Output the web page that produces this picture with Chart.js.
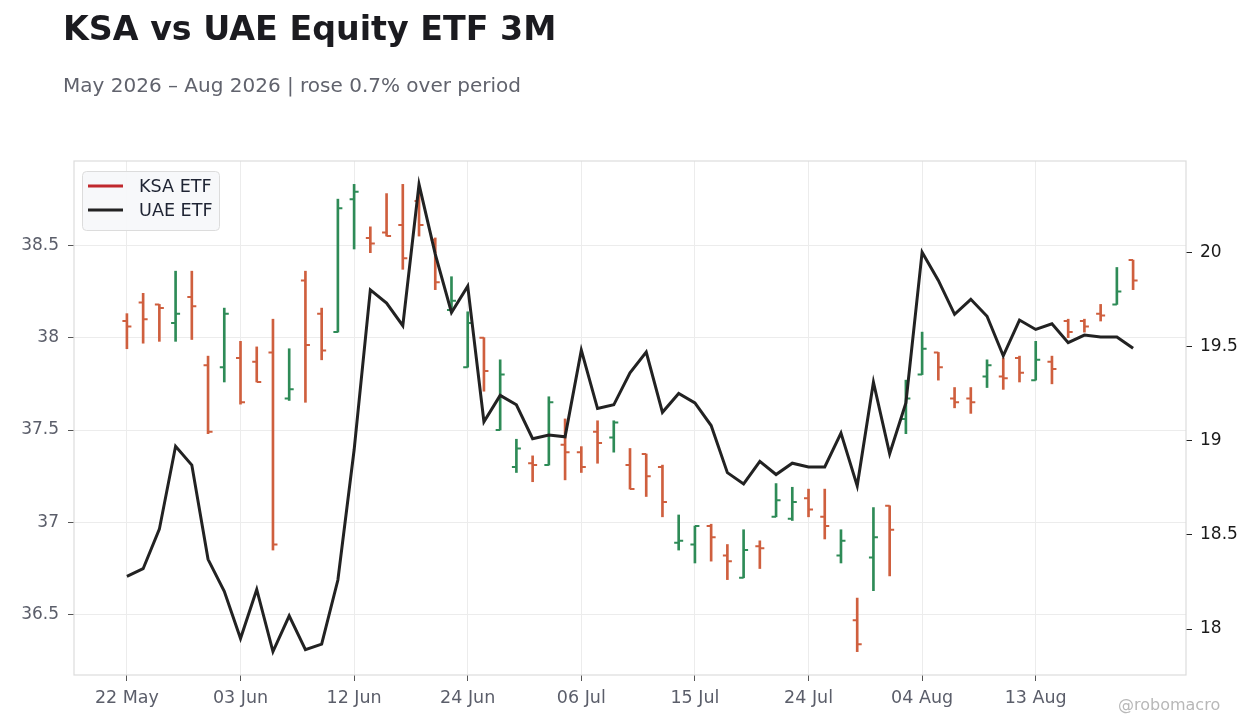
<!DOCTYPE html>
<html>
<head>
<meta charset="utf-8">
<title>KSA vs UAE Equity ETF 3M</title>
<script src="https://cdn.jsdelivr.net/npm/chart.js@4.4.1/dist/chart.umd.min.js"></script>
<style>
    html, body { margin: 0; padding: 0; background: #ffffff; }
    #wrap { position: relative; width: 1260px; height: 728px; font-family: "DejaVu Sans", sans-serif; }
    #title { position: absolute; left: 63px; top: 9px; font-size: 33.3px; font-weight: bold; color: #1b1b20; white-space: nowrap; }
    #subtitle { position: absolute; left: 63px; top: 73px; font-size: 20px; color: #61636d; white-space: nowrap; }
    #credit { position: absolute; left: 1118px; top: 695px; font-size: 16px; color: #b8b8b8; white-space: nowrap; }
    #chart { position: absolute; left: 0; top: 0; }
</style>
</head>
<body>
<div id="wrap">
    <canvas id="chart" width="1260" height="728"></canvas>
    <div id="title">KSA vs UAE Equity ETF 3M</div>
    <div id="subtitle">May 2026 – Aug 2026 | rose 0.7% over period</div>
    <div id="credit">@robomacro</div>
</div>
<script>

//---------------------------------------------------------------------------------------------
// - DATA -------------------------------------------------------------------------------------
//---------------------------------------------------------------------------------------------

var dates = [
    "22 May", "26 May", "27 May", "28 May", "29 May", "01 Jun", "02 Jun",
    "03 Jun", "04 Jun", "05 Jun", "08 Jun", "09 Jun", "10 Jun", "11 Jun",
    "12 Jun", "15 Jun", "16 Jun", "17 Jun", "18 Jun", "22 Jun", "23 Jun",
    "24 Jun", "25 Jun", "26 Jun", "29 Jun", "30 Jun", "01 Jul", "02 Jul",
    "06 Jul", "07 Jul", "08 Jul", "09 Jul", "10 Jul", "13 Jul", "14 Jul",
    "15 Jul", "16 Jul", "17 Jul", "20 Jul", "21 Jul", "22 Jul", "23 Jul",
    "24 Jul", "27 Jul", "28 Jul", "29 Jul", "30 Jul", "31 Jul", "03 Aug",
    "04 Aug", "05 Aug", "06 Aug", "07 Aug", "10 Aug", "11 Aug", "12 Aug",
    "13 Aug", "14 Aug", "17 Aug", "18 Aug", "19 Aug", "20 Aug", "21 Aug"
];

var ksaOpen = [
    38.09, 38.19, 38.18, 38.08, 38.22, 37.85, 37.84, 37.89, 37.87, 37.92,
    37.67, 38.31, 38.13, 38.03, 38.75, 38.54, 38.57, 38.61, 38.74, 38.53,
    38.15, 37.84, 38.00, 37.50, 37.30, 37.32, 37.31, 37.42, 37.38, 37.49,
    37.46, 37.31, 37.37, 37.30, 36.89, 36.88, 36.98, 36.82, 36.70, 36.87,
    37.03, 37.02, 37.13, 37.03, 36.82, 36.47, 36.81, 37.09, 37.56, 37.80,
    37.92, 37.67, 37.67, 37.79, 37.79, 37.89, 37.77, 37.87, 38.09, 38.09,
    38.13, 38.18, 38.42
];

var ksaHigh = [
    38.13, 38.24, 38.18, 38.36, 38.36, 37.90, 38.16, 37.98, 37.95, 38.10,
    37.94, 38.36, 38.16, 38.75, 38.83, 38.60, 38.78, 38.83, 38.79, 38.54,
    38.33, 38.14, 38.00, 37.88, 37.45, 37.36, 37.68, 37.56, 37.41, 37.55,
    37.55, 37.40, 37.37, 37.31, 37.04, 36.98, 36.99, 36.88, 36.96, 36.90,
    37.21, 37.19, 37.18, 37.18, 36.96, 36.59, 37.08, 37.09, 37.77, 38.03,
    37.92, 37.73, 37.73, 37.88, 37.89, 37.90, 37.98, 37.90, 38.10, 38.10,
    38.18, 38.38, 38.42
];

var ksaLow = [
    37.94, 37.97, 37.98, 37.98, 37.99, 37.48, 37.76, 37.64, 37.76, 36.85,
    37.66, 37.65, 37.88, 38.03, 38.48, 38.46, 38.55, 38.37, 38.55, 38.26,
    38.14, 37.84, 37.71, 37.50, 37.27, 37.22, 37.31, 37.23, 37.27, 37.32,
    37.38, 37.18, 37.14, 37.03, 36.85, 36.78, 36.79, 36.69, 36.70, 36.75,
    37.03, 37.01, 37.03, 36.91, 36.78, 36.30, 36.63, 36.71, 37.48, 37.80,
    37.77, 37.62, 37.59, 37.73, 37.72, 37.76, 37.77, 37.75, 38.00, 38.03,
    38.09, 38.18, 38.26
];

var ksaClose = [
    38.06, 38.10, 38.16, 38.13, 38.17, 37.49, 38.13, 37.65, 37.76, 36.88,
    37.72, 37.96, 37.93, 38.70, 38.79, 38.51, 38.55, 38.43, 38.61, 38.30,
    38.20, 38.08, 37.82, 37.80, 37.40, 37.31, 37.65, 37.38, 37.30, 37.43,
    37.54, 37.18, 37.25, 37.11, 36.90, 36.98, 36.92, 36.79, 36.85, 36.86,
    37.12, 37.11, 37.07, 36.98, 36.90, 36.34, 36.92, 36.96, 37.67, 37.94,
    37.84, 37.65, 37.65, 37.85, 37.78, 37.81, 37.88, 37.83, 38.03, 38.06,
    38.12, 38.25, 38.31
];

var uaeClose = [
    18.28, 18.32, 18.53, 18.97, 18.87, 18.37, 18.20, 17.95, 18.21, 17.88,
    18.07, 17.89, 17.92, 18.26, 18.95, 19.80, 19.73, 19.61, 20.36, 19.99,
    19.68, 19.82, 19.10, 19.24, 19.19, 19.01, 19.03, 19.02, 19.48, 19.17,
    19.19, 19.36, 19.47, 19.15, 19.25, 19.20, 19.08, 18.83, 18.77, 18.89,
    18.82, 18.88, 18.86, 18.86, 19.04, 18.76, 19.31, 18.93, 19.20, 20.00,
    19.85, 19.67, 19.75, 19.66, 19.45, 19.64, 19.59, 19.62, 19.52, 19.56,
    19.55, 19.55, 19.49
];

var seriesNames = ["KSA ETF", "UAE ETF"];

//---------------------------------------------------------------------------------------------
// - STYLE ------------------------------------------------------------------------------------
//---------------------------------------------------------------------------------------------

var up_color = "#2e8b57";
var down_color = "#cf5f3e";
var legend_colors = ["#c0282d", "#222222"];
var line_color = "#222222";
var grid_color = "#ececec";
var frame_color = "#dcdcdc";
var tick_text = "#5b5e6a";

Chart.defaults.font.family = "'DejaVu Sans', sans-serif";
Chart.defaults.font.size = 17;

function barColor(i) {
    return ksaClose[i] >= ksaOpen[i] ? up_color : down_color;
}

function paddedRange(lo, hi) {
    var pad = (hi - lo) * 0.05;
    return [lo - pad, hi + pad];
}

var leftRange = paddedRange(Math.min.apply(null, ksaLow), Math.max.apply(null, ksaHigh));
var rightRange = paddedRange(Math.min.apply(null, uaeClose), Math.max.apply(null, uaeClose));
var x_pad = 3.26;

function tidy(v) {
    return String(Math.round(v * 100) / 100);
}

//---------------------------------------------------------------------------------------------
// - PLUGINS ----------------------------------------------------------------------------------
//---------------------------------------------------------------------------------------------

var frame_plugin = {
    id: "frame",
    beforeDatasetsDraw: function (chart) {
        var a = chart.chartArea;
        var ctx = chart.ctx;
        ctx.save();
        ctx.strokeStyle = frame_color;
        ctx.lineWidth = 1.2;
        ctx.strokeRect(a.left, a.top, a.right - a.left, a.bottom - a.top);
        ctx.restore();
    }
};

// open / close ticks on the high-low bars
var ohlc_plugin = {
    id: "ohlcTicks",
    afterDatasetDraw: function (chart, args) {
        if (args.index !== 0) return;
        var meta = chart.getDatasetMeta(0);
        var yScale = chart.scales.yL;
        var ctx = chart.ctx;
        ctx.save();
        ctx.lineWidth = 2;
        meta.data.forEach(function (bar, i) {
            var x = bar.x;
            var yo = yScale.getPixelForValue(ksaOpen[i]);
            var yc = yScale.getPixelForValue(ksaClose[i]);
            ctx.strokeStyle = barColor(i);
            ctx.beginPath();
            ctx.moveTo(x - 4.5, yo);
            ctx.lineTo(x, yo);
            ctx.moveTo(x, yc);
            ctx.lineTo(x + 4.5, yc);
            ctx.stroke();
        });
        ctx.restore();
    }
};

var legend_plugin = {
    id: "boxLegend",
    afterDraw: function (chart) {
        var a = chart.chartArea;
        var ctx = chart.ctx;
        var x = a.left + 8, y = a.top + 10, w = 137, h = 59;
        ctx.save();
        ctx.beginPath();
        ctx.roundRect(x + 0.5, y + 0.5, w, h, 4);
        ctx.fillStyle = "rgba(247,248,250,0.95)";
        ctx.fill();
        ctx.strokeStyle = "#dcdcdc";
        ctx.lineWidth = 1;
        ctx.stroke();
        ctx.font = "17.6px 'DejaVu Sans', sans-serif";
        ctx.textBaseline = "middle";
        seriesNames.forEach(function (name, k) {
            var ly = y + 15 + k * 24;
            ctx.strokeStyle = legend_colors[k];
            ctx.lineWidth = 3;
            ctx.beginPath();
            ctx.moveTo(x + 6, ly);
            ctx.lineTo(x + 41, ly);
            ctx.stroke();
            ctx.fillStyle = "#1f2433";
            ctx.fillText(name, x + 57, ly + 1);
        });
        ctx.restore();
    }
};

//---------------------------------------------------------------------------------------------
// - CHART ------------------------------------------------------------------------------------
//---------------------------------------------------------------------------------------------

var ksa_points = dates.map(function (d, i) {
    return { x: i, y: [ksaLow[i], ksaHigh[i]] };
});

var uae_points = dates.map(function (d, i) {
    return { x: i, y: uaeClose[i] };
});

var chart_config = {
    type: "bar",
    data: {
        datasets: [{
            type: "bar",
            label: seriesNames[0],
            data: ksa_points,
            yAxisID: "yL",
            backgroundColor: dates.map(function (d, i) { return barColor(i); }),
            borderWidth: 0,
            barThickness: 2,
            grouped: false,
            order: 1
        }, {
            type: "line",
            label: seriesNames[1],
            data: uae_points,
            yAxisID: "yR",
            borderColor: line_color,
            borderWidth: 3,
            pointRadius: 0,
            tension: 0,
            fill: false,
            order: 0
        }]
    },
    options: {
        responsive: false,
        animation: false,
        layout: { padding: { top: 161, left: 0, right: 0, bottom: 0 } },
        plugins: {
            legend: { display: false },
            tooltip: { enabled: false },
            title: { display: false }
        },
        scales: {
            x: {
                type: "linear",
                position: "bottom",
                offset: false,
                min: -x_pad,
                max: dates.length - 1 + x_pad,
                afterBuildTicks: function (scale) {
                    scale.ticks = dates
                        .map(function (d, i) { return i; })
                        .filter(function (i) { return i % 7 === 0; })
                        .map(function (i) { return { value: i }; });
                },
                afterFit: function (scale) { scale.height = 53; },
                grid: { offset: false, color: grid_color, tickColor: "#555", tickLength: 6 },
                border: { display: false },
                ticks: {
                    color: tick_text,
                    font: { size: 17.5 },
                    padding: 7,
                    maxRotation: 0,
                    autoSkip: false,
                    callback: function (v) { return dates[v] || ""; }
                }
            },
            yL: {
                type: "linear",
                position: "left",
                min: leftRange[0],
                max: leftRange[1],
                afterFit: function (scale) { scale.width = 74; },
                grid: { color: grid_color, tickColor: "#555", tickLength: 6 },
                border: { display: false },
                ticks: {
                    stepSize: 0.5,
                    includeBounds: false,
                    color: tick_text,
                    padding: 9,
                    callback: tidy
                }
            },
            yR: {
                type: "linear",
                position: "right",
                min: rightRange[0],
                max: rightRange[1],
                afterFit: function (scale) { scale.width = 74; },
                grid: { drawOnChartArea: false, tickColor: "#222", tickLength: 6 },
                border: { display: false },
                ticks: {
                    stepSize: 0.5,
                    includeBounds: false,
                    color: "#1a1a1a",
                    padding: 8,
                    callback: tidy
                }
            }
        }
    },
    plugins: [frame_plugin, ohlc_plugin, legend_plugin]
};

var chart_ctx = document.getElementById("chart").getContext("2d");

new Chart(chart_ctx, chart_config);

</script>
</body>
</html>
